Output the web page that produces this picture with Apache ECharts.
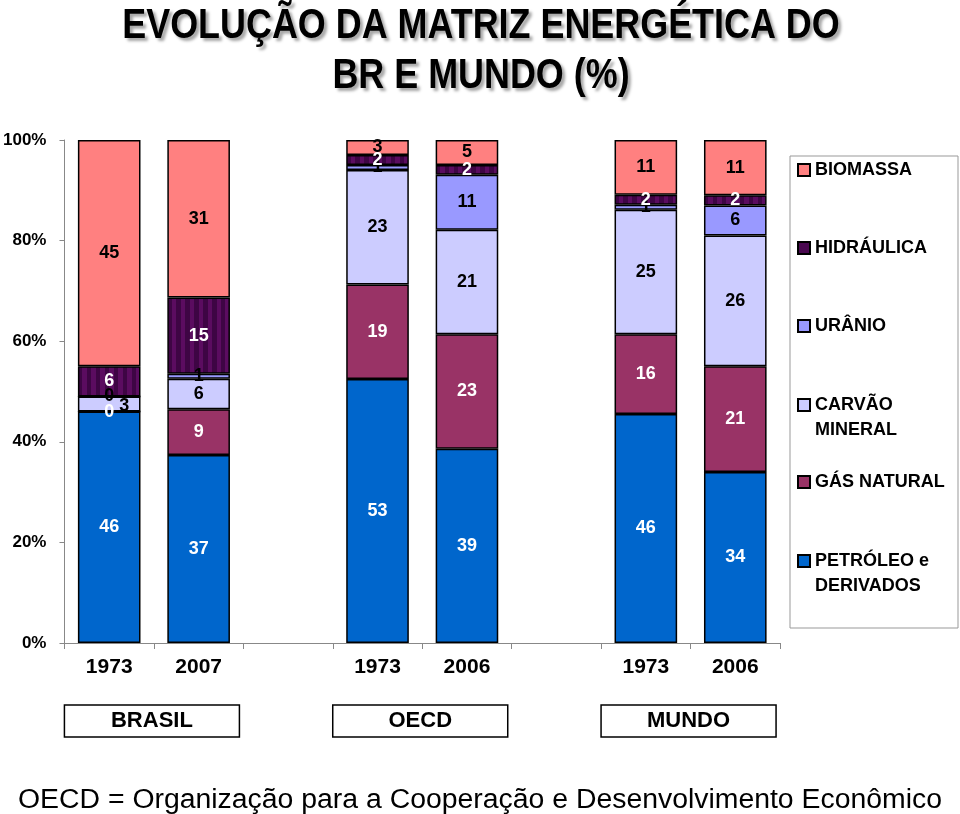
<!DOCTYPE html>
<html><head><meta charset="utf-8">
<script src="https://cdn.jsdelivr.net/npm/echarts@6/dist/echarts.min.js"></script>
<style>html,body{margin:0;padding:0;background:#fff}#c{width:960px;height:814px}</style>
</head><body><div id="c"></div>
<script>
// ---- data ----
const barYears = ['1973', '2007', '1973', '2006', '1973', '2006'];
const groupNames = ['BRASIL', 'OECD', 'MUNDO'];
const petroleo = [46, 37, 53, 39, 46, 34];
const gasNatural = [0, 9, 19, 23, 16, 21];
const carvaoMineral = [3, 6, 23, 21, 25, 26];
const uranio = [0, 1, 1, 11, 1, 6];
const hidraulica = [6, 15, 2, 2, 2, 2];
const biomassa = [45, 31, 3, 5, 11, 11];
const yTickValues = [0, 20, 40, 60, 80, 100];
const titleLines = ['EVOLUÇÃO DA MATRIZ ENERGÉTICA DO', 'BR E MUNDO (%)'];
const footnote = 'OECD = Organização para a Cooperação e Desenvolvimento Econômico';

// ---- layout helpers ----
const slotOf = [0, 1, 3, 4, 6, 7];         // bar -> category slot (empty slots between groups)
const groupBars = [[0, 1], [2, 3], [4, 5]];
const categories = new Array(8).fill('');
slotOf.forEach((s, i) => { categories[s] = barYears[i]; });

const FONT = '"Liberation Sans", Arial, sans-serif';

function stripes() {
  const stops = []; const n = 14;
  for (let i = 0; i < n; i++) {
    const c = i % 2 ? '#5b0c60' : '#3e0544';
    stops.push({ offset: i / n, color: c }, { offset: (i + 1) / n, color: c });
  }
  return { type: 'linear', x: 0, y: 0, x2: 1, y2: 0, colorStops: stops };
}

const seriesDefs = [
  { name: 'PETRÓLEO e\nDERIVADOS', values: petroleo, color: '#0066CC', text: '#ffffff', multi: true },
  { name: 'GÁS NATURAL', values: gasNatural, color: '#993366', text: '#ffffff' },
  { name: 'CARVÃO\nMINERAL', values: carvaoMineral, color: '#CCCCFF', text: '#000000', multi: true, nudge: { 0: [15, 2] } },
  { name: 'URÂNIO', values: uranio, color: '#9999FF', text: '#000000' },
  { name: 'HIDRÁULICA', values: hidraulica, color: stripes(), legendColor: '#4a0850', text: '#ffffff' },
  { name: 'BIOMASSA', values: biomassa, color: '#FF8080', text: '#000000' }
];

const totals = barYears.map((_, i) => seriesDefs.reduce((s, d) => s + d.values[i], 0));

const series = seriesDefs.map(d => {
  const data = new Array(8).fill('-');
  d.values.forEach((v, i) => {
    const item = { value: v / totals[i] * 100, raw: v };
    if (d.nudge && d.nudge[i]) item.label = { offset: d.nudge[i] };
    data[slotOf[i]] = item;
  });
  return {
    name: d.name, type: 'bar', stack: 'all', barWidth: '70%',
    data,
    itemStyle: { color: d.color, borderColor: '#000', borderWidth: 1.5 },
    label: {
      show: true, position: 'inside', color: d.text,
      fontFamily: FONT, fontWeight: 'bold', fontSize: 18,
      formatter: p => String(p.data.raw)
    },
    emphasis: { disabled: true }
  };
});

// legend: top-to-bottom order reversed
const legendCenters = [170, 248, 326, 405, 482, 561];
const legends = seriesDefs.slice().reverse().map((d, k) => ({
  data: [{ name: d.name, itemStyle: d.legendColor ? { color: d.legendColor } : undefined }],
  left: 797,
  top: legendCenters[k] - (d.multi ? 37.5 : 12.5),
  orient: 'vertical', padding: 0, itemGap: 0,
  itemWidth: 12, itemHeight: 12, icon: 'rect', selectedMode: false,
  formatter: d.multi ? (n => '\n' + n) : undefined,
  textStyle: { fontFamily: FONT, fontWeight: 'bold', fontSize: 18, color: '#000', lineHeight: 25 }
}));

const chart = echarts.init(document.getElementById('c'), null, { renderer: 'canvas' });
const option = {
  animation: false,
  backgroundColor: '#fff',
  title: [
    { text: footnote, left: 'center', top: 781,
      textStyle: { fontFamily: FONT, fontWeight: 'normal', fontSize: 28.4, color: '#000' } }
  ],
  legend: legends,
  grid: { left: 64, right: 180, top: 140, bottom: 171, containLabel: false },
  xAxis: {
    type: 'category', data: categories,
    axisLine: { lineStyle: { color: '#888', width: 1 } },
    axisTick: { show: true, length: 6, lineStyle: { color: '#888' } },
    axisLabel: { margin: 14, color: '#000', fontFamily: FONT, fontWeight: 'bold', fontSize: 21, interval: 0 }
  },
  yAxis: {
    type: 'value', min: yTickValues[0], max: yTickValues[yTickValues.length - 1],
    interval: yTickValues[1] - yTickValues[0],
    axisLine: { show: true, lineStyle: { color: '#888', width: 1 } },
    axisTick: { show: true, length: 5, lineStyle: { color: '#888' } },
    splitLine: { show: false },
    axisLabel: { margin: 18, color: '#000', fontFamily: FONT, fontWeight: 'bold', fontSize: 17, formatter: '{value}%' }
  },
  series
};
chart.setOption(option);

// title (condensed via horizontal scale), group boxes, legend frame
const graphics = [{
  type: 'rect', shape: { x: 790, y: 156, width: 168, height: 472 },
  style: { fill: 'none', stroke: '#999', lineWidth: 1 }, z: -1
}];
const titleY = [26, 76];
titleLines.forEach((t, i) => {
  graphics.push({
    type: 'text', x: 481, y: titleY[i], scaleX: 0.835, scaleY: 1,
    style: {
      text: t, fill: '#000', font: 'bold 43px ' + FONT, textAlign: 'center', textVerticalAlign: 'middle',
      textShadowColor: 'rgba(0,0,0,0.35)', textShadowBlur: 3, textShadowOffsetX: 3, textShadowOffsetY: 3
    }
  });
});
groupBars.forEach((bars, g) => {
  const x0 = chart.convertToPixel({ xAxisIndex: 0 }, slotOf[bars[0]]);
  const x1 = chart.convertToPixel({ xAxisIndex: 0 }, slotOf[bars[1]]);
  const cx = (x0 + x1) / 2 - 2;
  const w = 175, h = 32, y = 705;
  graphics.push({
    type: 'rect', shape: { x: cx - w / 2, y: y, width: w, height: h },
    style: { fill: '#fff', stroke: '#000', lineWidth: 1.5 }
  });
  graphics.push({
    type: 'text', x: cx, y: y + h / 2,
    style: { text: groupNames[g], fill: '#000', font: 'bold 22px ' + FONT, textAlign: 'center', textVerticalAlign: 'middle' }
  });
});
chart.setOption({ graphic: graphics });
</script></body></html>
